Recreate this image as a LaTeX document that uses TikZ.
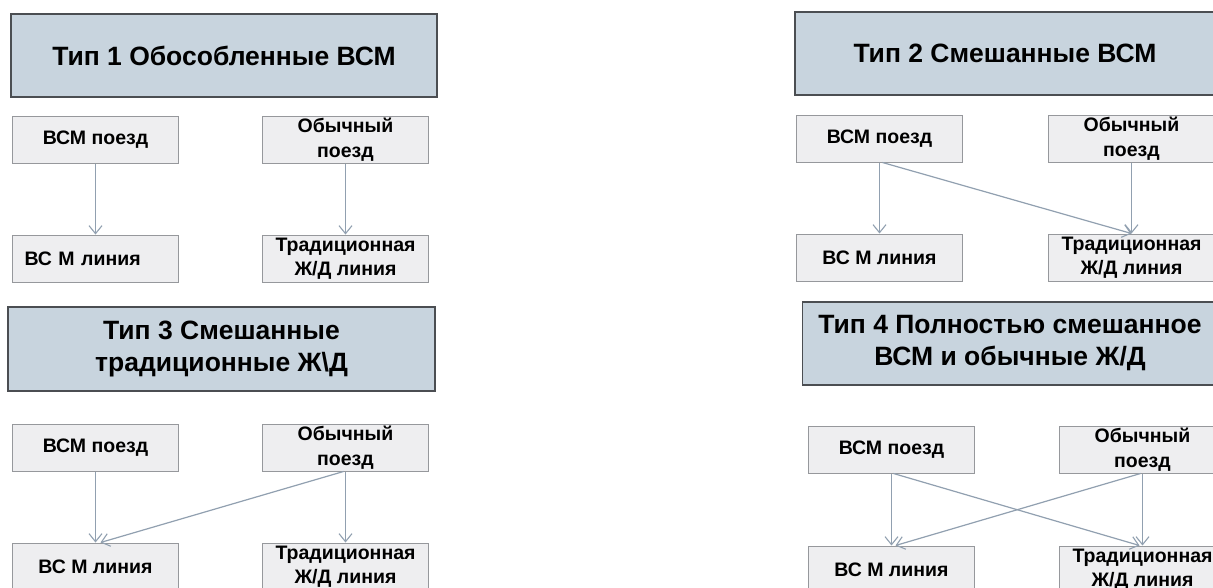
\documentclass[tikz,border=0pt]{standalone}
\usepackage{fontspec}
\setmainfont{Liberation Sans}
\usetikzlibrary{arrows.meta}
\definecolor{titlefill}{RGB}{200,212,222}
\definecolor{titledraw}{RGB}{75,78,82}
\definecolor{boxfill}{RGB}{238,238,240}
\definecolor{boxdraw}{RGB}{150,152,156}
\definecolor{arrowcol}{RGB}{145,160,176}
\begin{document}
\begin{tikzpicture}[x=1pt,y=-1pt,
  titlebox/.style={draw=titledraw,fill=titlefill,line width=1.4pt,
    font=\fontsize{26.5}{32}\selectfont\bfseries,align=center,inner sep=0pt},
  smallbox/.style={draw=boxdraw,fill=boxfill,line width=1pt,
    minimum width=166pt,minimum height=47pt,inner sep=0pt,
    font=\fontsize{19.5}{24.5}\selectfont\bfseries,align=center},
  conn/.style={draw=arrowcol,line width=1.2pt,
    -{Straight Barb[length=8pt,width=13pt,line width=1.1pt]}}
]
\useasboundingbox (0,0) rectangle (1213,587);
\clip (0,0) rectangle (1213,587);
\fill[white] (0,0) rectangle (1213,587);

% Panel 1
\node[titlebox,minimum width=426pt,minimum height=83pt] (t1) at (224,55.5) {Тип 1 Обособленные ВСМ};
\node[smallbox] (a1) at (95.5,139.5) {ВСМ поезд};
\node[smallbox] (b1) at (345.5,139.5) {Обычный\\поезд};
\node[smallbox,text width=142pt,align=left,inner xsep=12pt] (c1) at (95.5,258.5) {ВС М линия};
\node[smallbox] (d1) at (345.5,258.5) {Традиционная\\Ж/Д линия};
\draw[conn] (a1.south) -- (c1.north);
\draw[conn] (b1.south) -- (d1.north);

% Panel 2
\node[titlebox,minimum width=420pt,minimum height=83pt] (t2) at (1005,53.5) {Тип 2 Смешанные ВСМ};
\node[smallbox] (a2) at (879.5,138.5) {ВСМ поезд};
\node[smallbox] (b2) at (1131.5,138.5) {Обычный\\поезд};
\node[smallbox] (c2) at (879.5,257.5) {ВС М линия};
\node[smallbox] (d2) at (1131.5,257.5) {Традиционная\\Ж/Д линия};
\draw[conn] (a2.south) -- (c2.north);
\draw[conn] (b2.south) -- (d2.north);
\draw[conn] ([xshift=3pt]a2.south) -- (d2.north);

% Panel 3
\node[titlebox,minimum width=427pt,minimum height=84pt] (t3) at (221.5,349) {Тип 3 Смешанные\\традиционные Ж\textbackslash Д};
\node[smallbox] (a3) at (95.5,447.5) {ВСМ поезд};
\node[smallbox] (b3) at (345.5,447.5) {Обычный\\поезд};
\node[smallbox] (c3) at (95.5,566.5) {ВС М линия};
\node[smallbox] (d3) at (345.5,566.5) {Традиционная\\Ж/Д линия};
\draw[conn] (a3.south) -- (c3.north);
\draw[conn] (b3.south) -- (d3.north);
\draw[conn] ([xshift=-2pt]b3.south) -- ([xshift=5pt]c3.north);

% Panel 4
\node[titlebox,minimum width=415pt,minimum height=83pt] (t4) at (1010,343.5) {Тип 4 Полностью смешанное\\ВСМ и обычные Ж/Д};
\node[smallbox] (a4) at (891.5,449.5) {ВСМ поезд};
\node[smallbox] (b4) at (1142.5,449.5) {Обычный\\поезд};
\node[smallbox] (c4) at (891.5,569.5) {ВС М линия};
\node[smallbox] (d4) at (1142.5,569.5) {Традиционная\\Ж/Д линия};
\draw[conn] (a4.south) -- (c4.north);
\draw[conn] (b4.south) -- (d4.north);
\draw[conn] ([xshift=2pt]a4.south) -- ([xshift=-3pt]d4.north);
\draw[conn] ([xshift=-2pt]b4.south) -- ([xshift=4pt]c4.north);
\end{tikzpicture}
\end{document}
